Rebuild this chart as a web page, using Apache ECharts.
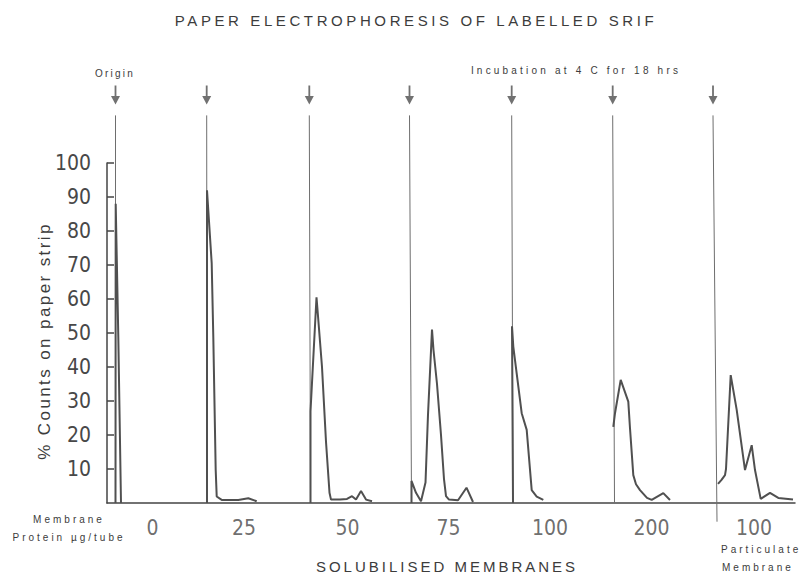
<!DOCTYPE html>
<html>
<head>
<meta charset="utf-8">
<script src="https://cdn.jsdelivr.net/npm/echarts@6/dist/echarts.min.js"></script>
<style>
html, body { margin: 0; padding: 0; background: #fff; }
#chart { width: 803px; height: 576px; }
</style>
</head>
<body>
<div id="chart"></div>
<script>
// membrane protein per tube, one paper strip each
var stripNames = ['0', '25', '50', '75', '100', '200', '100'];
// position of each strip origin along the x scale (arbitrary distance units)
var originBottom = [8.5, 100, 203.5, 304.5, 406, 507.5, 610];
var originTop = [8.5, 99.7, 202.3, 302.5, 404.7, 505.7, 606];
var originFoot = [0, 0, 0, 0, 0, 0, -5.5];
var stripTop = 114;

// % counts on paper strip
var trace0 = [[8.5, 0], [8.7, 88], [11.3, 49], [14, 0]];
var trace25 = [[100, 0], [100, 92], [104.7, 70.5], [106.3, 48.9], [108.7, 9.7], [109.7, 1.9], [114.7, 0.9], [131.3, 0.9], [141.3, 1.4], [149.7, 0.5]];
var trace50 = [[203.5, 0], [203.5, 27], [209.5, 60.5], [211, 55], [215, 40], [219, 18], [222.5, 3], [224, 1], [233, 1], [240, 1.2], [245, 2], [249, 1], [254, 3.5], [259, 1], [265, 0.5]];
var trace75 = [[304.5, 0], [304.5, 6.5], [309, 3], [314, 0.5], [318.5, 6], [321, 26], [325, 51], [326.5, 45], [330, 35], [334, 20], [337, 7], [339, 2], [342, 1], [351, 0.8], [359.5, 4.5], [366, 0.3]];
var trace100 = [[406, 0], [405, 52], [406.3, 46], [414.7, 26.4], [419.7, 21.5], [424.7, 3.8], [429.7, 1.9], [436.3, 0.9]];
var trace200 = [[506.3, 22.4], [508, 26.4], [513.7, 36.2], [521.3, 29.8], [523, 22], [526.3, 8.2], [529, 5.5], [533, 3.8], [540, 1.5], [544.7, 0.9], [556.3, 2.9], [563, 0.9]];
var traceParticulate = [[611, 5.6], [614.5, 6.8], [618, 8.2], [619, 10], [623.7, 37.6], [629.7, 27.4], [638, 9.7], [644.7, 17], [648, 9.7], [653.7, 1.2], [663, 3], [671.3, 1.5], [686, 1]];
var traces = [trace0, trace25, trace50, trace75, trace100, trace200, traceParticulate];

var titleText = 'PAPER ELECTROPHORESIS OF LABELLED SRIF';
var yName = '% Counts on paper strip';
var incubationText = 'Incubation at 4 C for 18 hrs';

var textFont = '"Liberation Sans", Arial, sans-serif';
var numFont = '"Liberation Sans Narrow", "DejaVu Sans Condensed", sans-serif';
var ink = '#3c3c3c';

var series = [];
originBottom.forEach(function (x, i) {
  series.push({
    type: 'line', silent: true, clip: false, symbol: 'none', z: 1,
    lineStyle: { color: '#6e6e6e', width: 1 },
    data: [[x, originFoot[i]], [originTop[i], stripTop]]
  });
});
traces.forEach(function (t, i) {
  series.push({
    name: stripNames[i], type: 'line', silent: true, clip: false, symbol: 'none', z: 3,
    lineStyle: { color: '#505050', width: 2 },
    data: t
  });
});
series.push({
  type: 'scatter', silent: true, clip: false, z: 4,
  symbol: 'path://M4,0 L6,0 L6,11 L10,11 L5,20 L0,11 L4,11 Z',
  symbolSize: [9, 19],
  itemStyle: { color: '#4e4e4e' },
  data: originTop.map(function (x) { return [x, 120]; })
});
series.push({
  type: 'scatter', silent: true, clip: false, symbolSize: 0,
  label: {
    show: true, position: 'inside',
    fontFamily: numFont, fontSize: 21, color: '#484848',
    formatter: function (p) { return stripNames[p.dataIndex]; }
  },
  data: originBottom.map(function (x) { return [x + 37, -7.4]; })
});

var chart = echarts.init(document.getElementById('chart'), null, { renderer: 'svg' });
chart.setOption({
  animation: false,
  backgroundColor: '#fff',
  grid: { left: 107, right: 8, top: 163, bottom: 73, outerBoundsMode: 'none' },
  xAxis: {
    type: 'value', min: 0, max: 688,
    axisLine: { show: true, lineStyle: { color: '#444', width: 1.5 } },
    axisTick: { show: false }, axisLabel: { show: false }, splitLine: { show: false }
  },
  yAxis: {
    type: 'value', min: 0, max: 100, interval: 10,
    name: yName, nameLocation: 'middle', nameGap: 54, nameRotate: 90, nameMoveOverlap: false,
    nameTextStyle: { fontFamily: textFont, fontSize: 17, color: ink, padding: [0, 16, 0, 0] },
    axisLine: { show: true, lineStyle: { color: '#444', width: 1.5 } },
    axisTick: { show: true, inside: true, length: 7, lineStyle: { color: '#444', width: 1.5 } },
    axisLabel: { showMinLabel: false, margin: 16, fontFamily: numFont, fontSize: 21, color: '#484848' },
    splitLine: { show: false }
  },
  graphic: [
    { type: 'text', x: 416, y: 20, style: { text: titleText, align: 'center', verticalAlign: 'middle', font: '15px ' + textFont, fill: ink } },
    { type: 'text', x: 115, y: 73, style: { text: 'Origin', align: 'center', verticalAlign: 'middle', font: '10px ' + textFont, fill: ink } },
    { type: 'text', x: 576, y: 70, style: { text: incubationText, align: 'center', verticalAlign: 'middle', font: '10px ' + textFont, fill: ink } },
    { type: 'text', x: 69, y: 519, style: { text: 'Membrane', align: 'center', verticalAlign: 'middle', font: '10px ' + textFont, fill: ink } },
    { type: 'text', x: 69, y: 537, style: { text: 'Protein \u00b5g/tube', align: 'center', verticalAlign: 'middle', font: '10px ' + textFont, fill: ink } },
    { type: 'text', x: 447, y: 566, style: { text: 'SOLUBILISED MEMBRANES', align: 'center', verticalAlign: 'middle', font: '15px ' + textFont, fill: ink } },
    { type: 'text', x: 721, y: 549, style: { text: 'Particulate', align: 'left', verticalAlign: 'middle', font: '10px ' + textFont, fill: ink } },
    { type: 'text', x: 722, y: 567, style: { text: 'Membrane', align: 'left', verticalAlign: 'middle', font: '10px ' + textFont, fill: ink } }
  ],
  series: series
});

// the original lettering is widely tracked
var tracking = {};
tracking[titleText] = 3.6;
tracking[yName] = 2.4;
tracking[incubationText] = 3.2;
tracking['Origin'] = 2.2;
tracking['Membrane'] = 3;
tracking['Protein \u00b5g/tube'] = 3;
tracking['Particulate'] = 3;
tracking['SOLUBILISED MEMBRANES'] = 3;
function applyTracking() {
  document.querySelectorAll('#chart text').forEach(function (n) {
    var s = tracking[n.textContent];
    if (s) n.setAttribute('letter-spacing', s);
  });
}
chart.on('finished', applyTracking);
setTimeout(applyTracking, 50);
</script>
</body>
</html>
